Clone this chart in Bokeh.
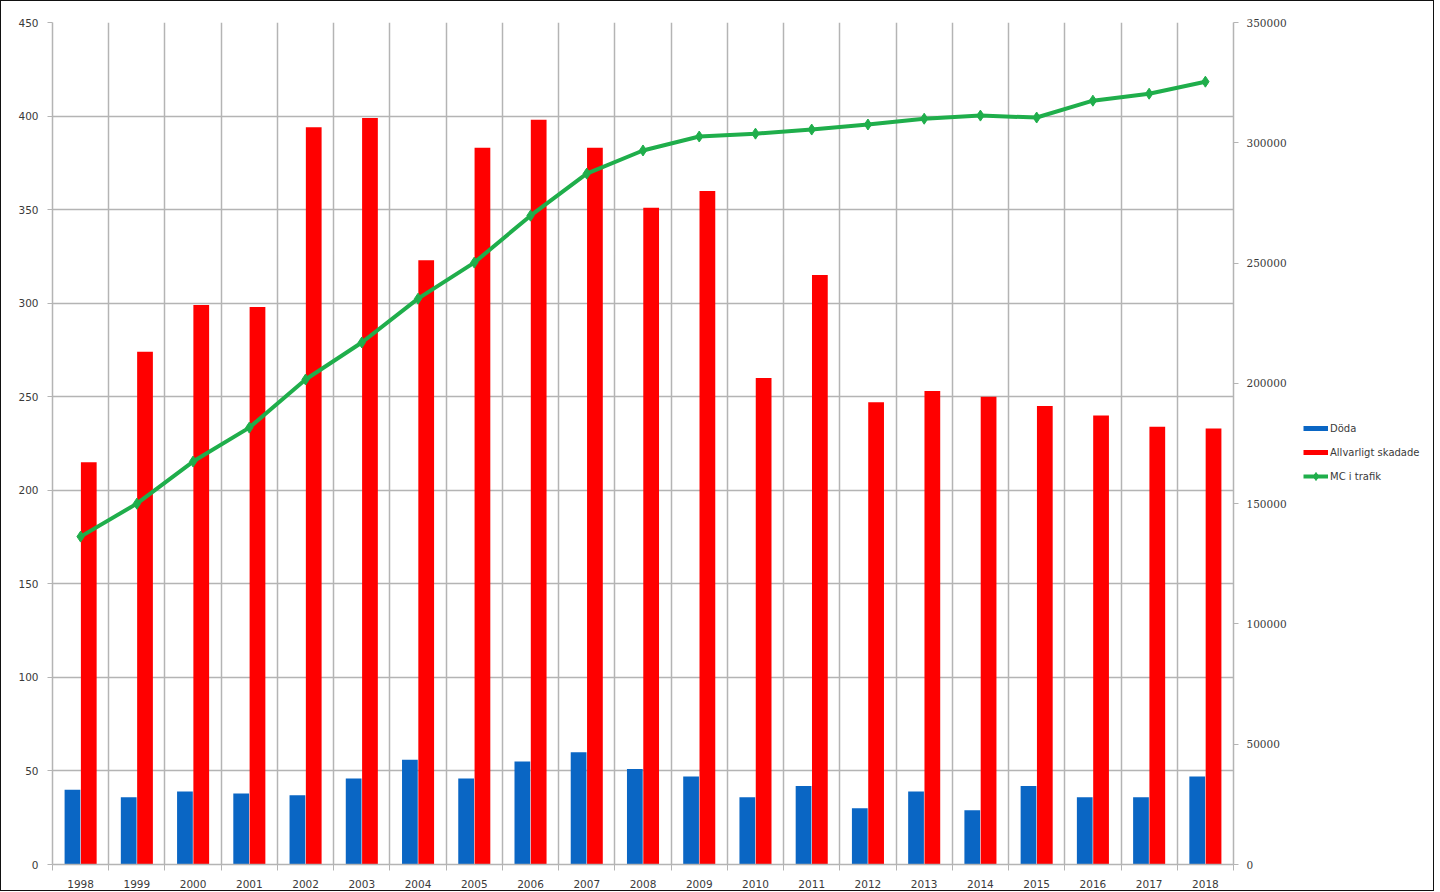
from bokeh.plotting import figure
from bokeh.layouts import row
from bokeh.models import (Range1d, LinearAxis, FixedTicker, Legend, LegendItem,
                          ColumnDataSource, NumeralTickFormatter)
from bokeh.embed import file_html
from bokeh.resources import INLINE
from bokeh.transform import dodge

years = ["1998", "1999", "2000", "2001", "2002", "2003", "2004", "2005", "2006",
         "2007", "2008", "2009", "2010", "2011", "2012", "2013", "2014", "2015",
         "2016", "2017", "2018"]
doda = [40, 36, 39, 38, 37, 46, 56, 46, 55, 60, 51, 47, 36, 42, 30, 39, 29, 42, 36, 36, 47]
allvarligt = [215, 274, 299, 298, 394, 399, 323, 383, 398, 383, 351, 360, 260, 315,
              247, 253, 250, 245, 240, 234, 233]
mc_trafik = [136300, 150000, 167500, 181600, 201600, 217000, 235200, 250200, 269700,
             287200, 296800, 302600, 303800, 305500, 307600, 310000, 311300, 310500,
             317500, 320400, 325400]
left_ticks = [0, 50, 100, 150, 200, 250, 300, 350, 400, 450]
right_ticks = [0, 50000, 100000, 150000, 200000, 250000, 300000, 350000]
series_names = ["Döda", "Allvarligt skadade", "MC i trafik"]

n = len(years)
idx = list(range(n))
src = ColumnDataSource(dict(x=idx, doda=doda, allv=allvarligt, mc=mc_trafik))

GRID = "#b4b4b4"
TXT = "#3a3a3a"
BLUE = "#0a66c4"
RED = "#ff0000"
GREEN = "#1fae4b"

p = figure(frame_width=1181, frame_height=842, output_backend="svg", toolbar_location=None,
           x_range=Range1d(-0.5, n - 0.5), y_range=Range1d(0, 450),
           min_border_left=51, min_border_top=21, min_border_bottom=25,
           min_border_right=62, outline_line_color=None)
p.extra_y_ranges = {"mc": Range1d(0, 350000)}

# grids
p.xgrid.ticker = FixedTicker(ticks=[i - 0.5 for i in range(n + 1)])
p.ygrid.ticker = FixedTicker(ticks=left_ticks)
for g in (p.xgrid, p.ygrid):
    g.grid_line_color = GRID
    g.grid_line_width = 1.5

# x axis
xa = p.xaxis[0]
xa.ticker = FixedTicker(ticks=idx, minor_ticks=[i - 0.5 for i in range(n + 1)])
xa.major_label_overrides = {i: y for i, y in enumerate(years)}
xa.major_tick_line_color = None
xa.major_tick_out = 0
xa.major_tick_in = 0
xa.minor_tick_line_color = GRID
xa.minor_tick_out = 6
xa.minor_tick_in = 0
xa.axis_line_color = GRID
xa.axis_line_width = 1.5
xa.major_label_text_font = "DejaVu Sans"
xa.major_label_text_font_size = "10.5px"
xa.major_label_text_color = TXT
xa.major_label_standoff = 9

# left axis
ya = p.yaxis[0]
ya.ticker = FixedTicker(ticks=left_ticks)
ya.minor_tick_line_color = None
ya.major_tick_line_color = GRID
ya.major_tick_out = 5
ya.major_tick_in = 0
ya.axis_line_color = GRID
ya.axis_line_width = 1.5
ya.major_label_text_font = "DejaVu Sans"
ya.major_label_text_font_size = "10.5px"
ya.major_label_text_color = TXT
ya.major_label_standoff = 9

# right axis
ra = LinearAxis(y_range_name="mc", ticker=FixedTicker(ticks=right_ticks),
                formatter=NumeralTickFormatter(format="0"))
ra.minor_tick_line_color = None
ra.major_tick_line_color = GRID
ra.major_tick_out = 5
ra.major_tick_in = 0
ra.axis_line_color = GRID
ra.axis_line_width = 1.5
ra.major_label_text_font = "DejaVu Serif"
ra.major_label_text_font_size = "10.5px"
ra.major_label_text_color = TXT
ra.major_label_standoff = 8
p.add_layout(ra, "right")

# bars
p.vbar(x=dodge("x", -0.145, range=p.x_range), top="doda", width=0.28, source=src,
       fill_color=BLUE, line_color=None)
p.vbar(x=dodge("x", 0.145, range=p.x_range), top="allv", width=0.28, source=src,
       fill_color=RED, line_color=None)

# line
p.line("x", "mc", source=src, y_range_name="mc", line_color=GREEN, line_width=4)
p.scatter("x", "mc", source=src, y_range_name="mc", marker="diamond", size=11,
          fill_color=GREEN, line_color=GREEN)

# legend panel (separate small figure to the right)
lf = figure(width=138, height=888, output_backend="svg", toolbar_location=None,
            x_range=Range1d(0, 1), y_range=Range1d(0, 1),
            min_border=0, outline_line_color=None)
lf.axis.visible = False
lf.grid.visible = False
nan = float("nan")
l_blue = lf.line([nan], [nan], line_color=BLUE, line_width=5)
l_red = lf.line([nan], [nan], line_color=RED, line_width=5)
l_green = lf.line([nan], [nan], line_color=GREEN, line_width=4)
l_gm = lf.scatter([nan], [nan], marker="diamond", size=9, fill_color=GREEN, line_color=GREEN)

legend = Legend(items=[
    LegendItem(label=series_names[0], renderers=[l_blue]),
    LegendItem(label=series_names[1], renderers=[l_red]),
    LegendItem(label=series_names[2], renderers=[l_green, l_gm]),
], location=(8, 377))
legend.border_line_color = None
legend.background_fill_alpha = 0
legend.label_text_font = "DejaVu Sans"
legend.label_text_font_size = "10px"
legend.label_text_color = TXT
legend.glyph_width = 25
legend.glyph_height = 20
legend.label_standoff = 2
legend.spacing = 4
legend.padding = 5
legend.margin = 0
lf.add_layout(legend)

layout = row(p, lf)
layout.styles = {"border": "1.5px solid #111", "box-sizing": "border-box"}

open("out.html", "w").write(file_html(layout, INLINE))
